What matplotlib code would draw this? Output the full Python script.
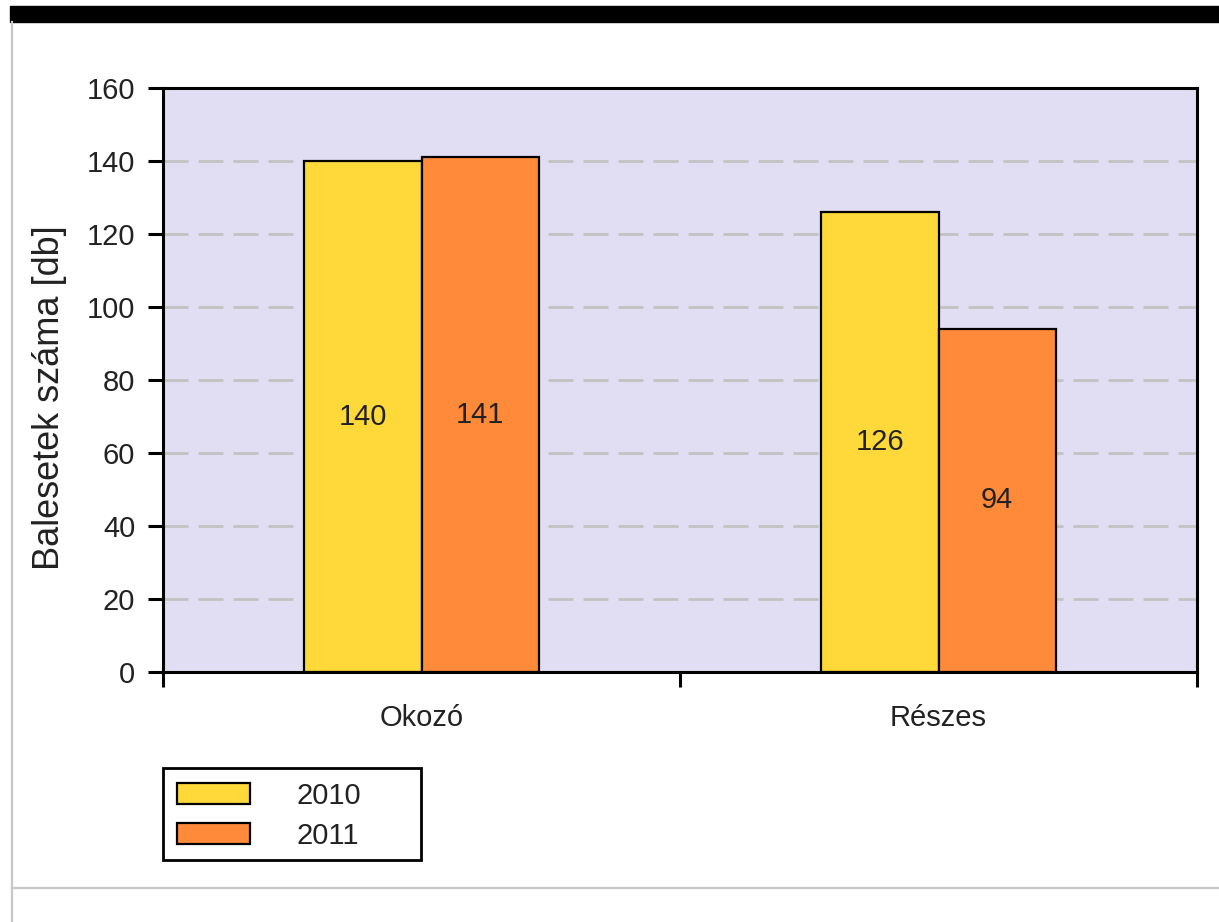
import matplotlib.pyplot as plt
from matplotlib.patches import Rectangle
from matplotlib.lines import Line2D
import numpy as np

plt.rcParams['font.family'] = ['Liberation Sans', 'DejaVu Sans']

# adatok
kategoriak = ['Okozó', 'Részes']
evek = ['2010', '2011']
ertekek_2010 = [140, 126]
ertekek_2011 = [141, 94]
y_ticks = [0, 20, 40, 60, 80, 100, 120, 140, 160]

sarga = '#FFD83A'
narancs = '#FF8A3A'
szoveg = '#222222'
fs = 21

W, H = 1219, 922
fig = plt.figure(figsize=(W / 100, H / 100), dpi=100)
fig.patch.set_facecolor('white')

# keret: fekete sáv felül, szürke vonalak
fig.patches.append(Rectangle((10 / W, 1 - 22 / H), 1 - 10 / W, 16 / H,
                             transform=fig.transFigure, color='black', zorder=0))
fig.lines.append(Line2D([11.5 / W, 11.5 / W], [0, 1 - 22 / H], transform=fig.transFigure,
                        color='#C8C8C8', lw=1.6))
fig.lines.append(Line2D([11.5 / W, 1], [1 - 888 / H, 1 - 888 / H], transform=fig.transFigure,
                        color='#C8C8C8', lw=1.6))

ax = fig.add_axes([163 / W, 1 - 672 / H, 1034 / W, 584 / H])
ax.set_facecolor('#E1DEF3')

x = np.array([0.5, 1.5])
w = 0.227
b1 = ax.bar(x - w / 2, ertekek_2010, w, color=sarga, edgecolor='black', linewidth=1.6,
            label=evek[0], zorder=3)
b2 = ax.bar(x + w / 2, ertekek_2011, w, color=narancs, edgecolor='black', linewidth=1.6,
            label=evek[1], zorder=3)

for xs, vals in [(x - w / 2, ertekek_2010), (x + w / 2, ertekek_2011)]:
    for xi, v in zip(xs, vals):
        ax.text(xi, v / 2, str(v), ha='center', va='center', fontsize=fs, color=szoveg, zorder=4)

ax.set_xlim(0, 2)
ax.set_ylim(0, 160)
ax.set_yticks(y_ticks)
ax.set_yticklabels([str(t) for t in y_ticks], fontsize=fs, color=szoveg)
ax.set_xticks([0, 1, 2])
ax.set_xticklabels(['', '', ''])
ax.set_xticks(x, minor=True)
ax.set_xticklabels(kategoriak, minor=True, fontsize=fs, color=szoveg)
ax.tick_params(axis='x', which='minor', length=0, pad=23)
ax.tick_params(axis='x', which='major', length=11, width=2.2, direction='out')
ax.tick_params(axis='y', length=11, width=2.2, direction='out', pad=9)

for t in y_ticks[1:-1]:
    ax.axhline(t, color='#C2C2C2', lw=2, linestyle=(0, (9, 3.6)), zorder=1)

for s in ax.spines.values():
    s.set_linewidth(2.2)
    s.set_color('black')

ax.set_ylabel('Balesetek száma [db]', fontsize=26, color=szoveg)
ax.yaxis.set_label_coords(-0.093, 0.47)

# jelmagyarázat
fig.patches.append(Rectangle((163 / W, 1 - 860 / H), 258 / W, 92 / H,
                             transform=fig.transFigure, facecolor='white',
                             edgecolor='black', lw=2, zorder=1))
leg = fig.legend(handles=[b1, b2], labels=evek, loc='upper left',
                 bbox_to_anchor=(177 / W, 1 - 782 / H), frameon=False, fontsize=fs,
                 handlelength=2.5, handleheight=0.74, handletextpad=1.6,
                 labelspacing=0.4, borderpad=0, borderaxespad=0)
for t in leg.get_texts():
    t.set_color(szoveg)

fig.savefig('out.png', dpi=100)
